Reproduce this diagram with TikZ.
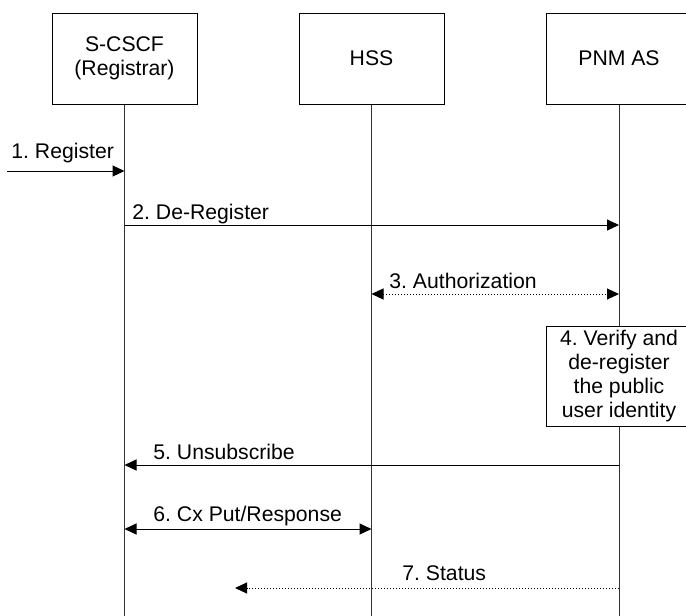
\documentclass[tikz,border=0pt]{standalone}
\usepackage{fontspec}
\setmainfont{Liberation Sans}
\usetikzlibrary{arrows.meta}
\frenchspacing

\begin{document}
\begin{tikzpicture}[x=0.5pt, y=-0.5pt,
  font=\fontsize{10.6}{12}\selectfont,
  entity/.style={draw, line width=0.5pt, minimum width=72.5pt, minimum height=45.5pt, align=center, inner sep=0pt},
  action/.style={draw, fill=white, line width=0.5pt, minimum width=72.5pt, minimum height=50pt, align=center, inner sep=0pt},
  lifeline/.style={line width=0.5pt, black!80},
  msg/.style={line width=0.5pt, -{Triangle[length=6pt, width=5.5pt]}},
  both/.style={line width=0.5pt, {Triangle[length=6pt, width=5.5pt]}-{Triangle[length=6pt, width=5.5pt]}},
  reply/.style={densely dotted},
  lbl/.style={anchor=base west, inner sep=0pt}]

  \useasboundingbox (0,0) rectangle (686,616);

  % entities
  \node[entity] (scscf) at (124.5,58.5) {S-CSCF\\(Registrar)};
  \node[entity] (hss) at (371.5,58.5) {HSS};
  \node[entity] (pnm) at (619,58.5) {PNM AS};

  \coordinate (bottom) at (0,620);
  \draw[lifeline] (scscf.south) -- (scscf |- bottom);
  \draw[lifeline] (hss.south) -- (hss |- bottom);
  \draw[lifeline] (pnm.south) -- (pnm |- bottom);

  % message levels
  \coordinate (in) at (7,171);
  \coordinate (m2) at (0,225);
  \coordinate (m3) at (0,294);
  \coordinate (m5) at (0,465);
  \coordinate (m6) at (0,529);
  \coordinate (m7) at (0,588);
  \coordinate (st) at (235,588);

  \draw[msg] (in) -- (in -| scscf);
  \node[lbl] (l1) at (11,158) {1. Register};

  \draw[msg] (scscf |- m2) -- (pnm |- m2);
  \node[lbl] (l2) at (132,219) {2. De-Register};

  \draw[both, reply] (hss |- m3) -- (pnm |- m3);
  \node[lbl] (l3) at (389,288) {3. Authorization};

  \node[action] (verify) at (619,376) {4. Verify and\\de-register\\the public\\user identity};

  \draw[msg] (pnm |- m5) -- (scscf |- m5);
  \node[lbl] (l5) at (153,459) {5. Unsubscribe};

  \draw[both] (scscf |- m6) -- (hss |- m6);
  \node[lbl] (l6) at (153,521) {6. Cx Put/Response};

  \draw[msg, reply] (pnm |- m7) -- (st);
  \node[lbl] (l7) at (402,580) {7. Status};

\end{tikzpicture}
\end{document}
